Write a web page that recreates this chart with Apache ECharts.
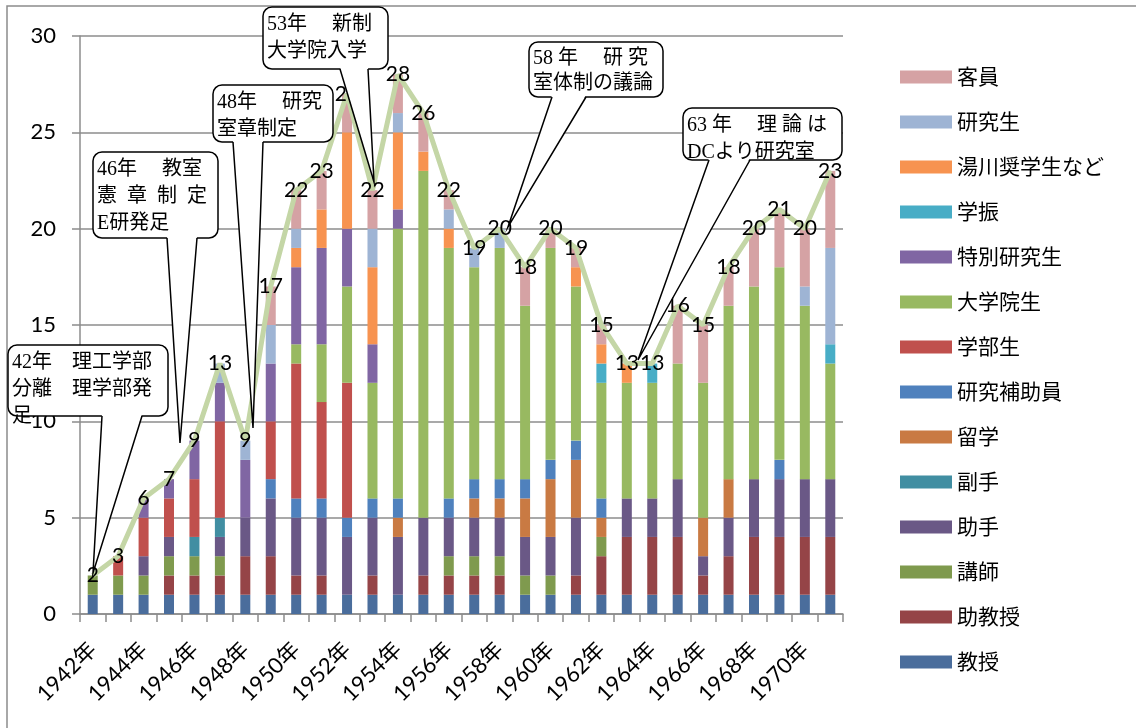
<!DOCTYPE html>
<html>
<head>
<meta charset="utf-8">
<script src="https://cdn.jsdelivr.net/npm/echarts@6/dist/echarts.min.js"></script>
<style>
html, body { margin: 0; background: #fff; }
#main { width: 1136px; height: 728px; }
</style>
</head>
<body>
<div id="main"></div>
<script>
// 年度 (1942-1971)
var years = ['1942年','1943年','1944年','1945年','1946年','1947年','1948年','1949年','1950年','1951年',
             '1952年','1953年','1954年','1955年','1956年','1957年','1958年','1959年','1960年','1961年',
             '1962年','1963年','1964年','1965年','1966年','1967年','1968年','1969年','1970年','1971年'];

// 積み上げ (下から)
var kyoju      = [1,1,1,1,1,1,1,1,1,1, 1,1,1,1,1,1,1,1,1,1, 1,1,1,1,1,1,1,1,1,1];
var jokyoju    = [0,0,0,1,1,1,2,2,1,1, 0,1,0,1,1,1,1,0,0,1, 2,3,3,3,1,2,3,3,3,3];
var koshi      = [1,1,1,1,1,1,0,0,0,0, 0,0,0,0,1,1,1,1,1,0, 1,0,0,0,0,0,0,0,0,0];
var joshu      = [0,0,1,1,0,1,2,3,3,3, 3,3,3,3,2,2,2,2,2,3, 0,2,2,3,1,2,3,3,3,3];
var fukushu    = [0,0,0,0,1,1,0,0,0,0, 0,0,0,0,0,0,0,0,0,0, 0,0,0,0,0,0,0,0,0,0];
var ryugaku    = [0,0,0,0,0,0,0,0,0,0, 0,0,1,0,0,1,1,2,3,3, 1,0,0,0,2,2,0,0,0,0];
var hojoin     = [0,0,0,0,0,0,0,1,1,1, 1,1,1,0,1,1,1,1,1,1, 1,0,0,0,0,0,0,1,0,0];
var gakubusei  = [0,1,2,2,3,5,0,3,7,5, 7,0,0,0,0,0,0,0,0,0, 0,0,0,0,0,0,0,0,0,0];
var daigakuin  = [0,0,0,0,0,0,0,0,1,3, 5,6,14,18,13,11,12,9,11,8, 6,6,6,6,7,9,10,10,9,6];
var tokubetsu  = [0,0,1,1,2,2,3,3,4,5, 3,2,1,0,0,0,0,0,0,0, 0,0,0,0,0,0,0,0,0,0];
var gakushin   = [0,0,0,0,0,0,0,0,0,0, 0,0,0,0,0,0,0,0,0,0, 1,0,1,0,0,0,0,0,0,1];
var yukawa     = [0,0,0,0,0,0,0,0,1,2, 5,4,4,1,1,0,0,0,0,1, 1,1,0,0,0,0,0,0,0,0];
var kenkyusei  = [0,0,0,0,0,1,1,2,1,0, 0,2,1,0,1,1,1,0,0,0, 0,0,0,0,0,0,0,0,1,5];
var kyakuin    = [0,0,0,0,0,0,0,2,2,2, 2,2,2,2,1,0,0,2,1,1, 1,0,0,3,3,2,3,3,3,4];

// 合計 (折れ線)
var totals = [2,3,6,7,9,13,9,17,22,23, 27,22,28,26,22,19,20,18,20,19, 15,13,13,16,15,18,20,21,20,23];

var stackDefs = [
    ['教授', kyoju, '#4A6D9C'],
    ['助教授', jokyoju, '#954447'],
    ['講師', koshi, '#7F9A4E'],
    ['助手', joshu, '#6A5886'],
    ['副手', fukushu, '#418EA2'],
    ['留学', ryugaku, '#C97A43'],
    ['研究補助員', hojoin, '#4F81BD'],
    ['学部生', gakubusei, '#C0504D'],
    ['大学院生', daigakuin, '#98B961'],
    ['特別研究生', tokubetsu, '#8066A3'],
    ['学振', gakushin, '#48ADC6'],
    ['湯川奨学生など', yukawa, '#F79350'],
    ['研究生', kenkyusei, '#9EB4D4'],
    ['客員', kyakuin, '#D5A2A4']
];

var FONT = "Lato, 'Noto Sans CJK JP', sans-serif";
var SERIF = "'Liberation Serif', 'Noto Sans CJK JP', serif";

var series = stackDefs.map(function (d) {
    return {
        name: d[0],
        type: 'bar',
        stack: 'total',
        barWidth: 10,
        data: d[1],
        itemStyle: { color: d[2] },
        z: 2
    };
});
series.push({
    name: '合計',
    type: 'line',
    data: totals,
    symbol: 'circle',
    symbolSize: 1,
    showSymbol: true,
    showAllSymbol: true,
    itemStyle: { color: '#C4D6A6' },
    lineStyle: { color: '#C4D6A6', width: 5 },
    label: {
        show: true,
        position: 'inside',
        color: '#000',
        fontSize: 21,
        fontFamily: FONT
    },
    z: 5
});

// 吹き出し
function callout(x, y, w, h, b1, b2, tip, lines, lh) {
    var bottom = y + h;
    return {
        type: 'group',
        z: 100,
        children: [
            { type: 'rect', shape: { x: x, y: y, width: w, height: h, r: 9 },
              style: { fill: '#fff', stroke: '#000', lineWidth: 1.5 }, z: 100 },
            { type: 'polygon', shape: { points: [[b1, bottom - 2], tip, [b2, bottom - 2]] },
              style: { fill: '#fff', stroke: null }, z: 101 },
            { type: 'polyline', shape: { points: [[b1, bottom], tip, [b2, bottom]] },
              style: { fill: null, stroke: '#000', lineWidth: 1.5 }, z: 102 },
            { type: 'text', x: x + 4, y: y + 4, z: 103,
              style: { text: lines.join('\n'), font: '20px ' + SERIF, fill: '#000', lineHeight: lh || 27 } }
        ]
    };
}

var graphics = [
    { type: 'rect', shape: { x: 7, y: 6, width: 1140, height: 740 },
      style: { fill: null, stroke: '#8C8C8C', lineWidth: 1.5 }, z: 0, silent: true },
    callout(8, 345, 160, 71, 102, 142, [93, 573], ['42年　理工学部', '分離　理学部発', '足']),
    callout(93, 152, 125, 86, 167, 197, [180, 443], ['46年　 教室', '憲  章  制  定', 'E研発足']),
    callout(213, 85, 120, 57, 233, 263, [253, 428], ['48年　 研究', '室章制定']),
    callout(263, 7, 125, 62, 340, 368, [374, 182], ['53年　 新制', '大学院入学']),
    callout(529, 42, 134, 55, 552, 586, [508, 227], ['58 年　 研 究', '室体制の議論'], 25),
    callout(683, 108, 159, 52, 709, 750, [638, 360], ['63 年　 理 論 は', 'DCより研究室'])
];

var legendOrder = stackDefs.map(function (d) { return d[0]; }).reverse();

var dom = document.getElementById('main');
var myChart = echarts.init(dom, null, { renderer: 'canvas' });

var option = {
    backgroundColor: '#fff',
    animation: false,
    grid: {
        left: 80,
        right: 293,
        top: 36,
        bottom: 114,
        containLabel: false
    },
    legend: {
        orient: 'vertical',
        left: 895,
        top: 61,
        itemWidth: 52,
        itemHeight: 13,
        itemGap: 23,
        icon: 'rect',
        data: legendOrder,
        textStyle: { fontSize: 21, fontFamily: FONT, color: '#000', lineHeight: 22 }
    },
    xAxis: {
        type: 'category',
        data: years,
        boundaryGap: true,
        axisLine: { lineStyle: { color: '#8C8C8C', width: 1.5 } },
        axisTick: { show: true, interval: 0, length: 8, lineStyle: { color: '#8C8C8C', width: 1.5 } },
        axisLabel: {
            interval: 1,
            rotate: 45,
            margin: 32,
            color: '#000',
            fontSize: 22,
            fontFamily: FONT
        },
        splitLine: { show: false }
    },
    yAxis: {
        type: 'value',
        min: 0,
        max: 30,
        interval: 5,
        axisLine: { show: true, lineStyle: { color: '#8C8C8C', width: 1.5 } },
        axisTick: { show: true, length: 8, lineStyle: { color: '#8C8C8C', width: 1.5 } },
        axisLabel: { color: '#000', fontSize: 22, fontFamily: FONT, margin: 24 },
        splitLine: { show: true, lineStyle: { color: '#8C8C8C', width: 1.5 } }
    },
    series: series,
    graphic: graphics
};

if (option && typeof option === "object") {
    myChart.setOption(option, true);
}
window.addEventListener('resize', function () {
    myChart.resize();
});
</script>
</body>
</html>
